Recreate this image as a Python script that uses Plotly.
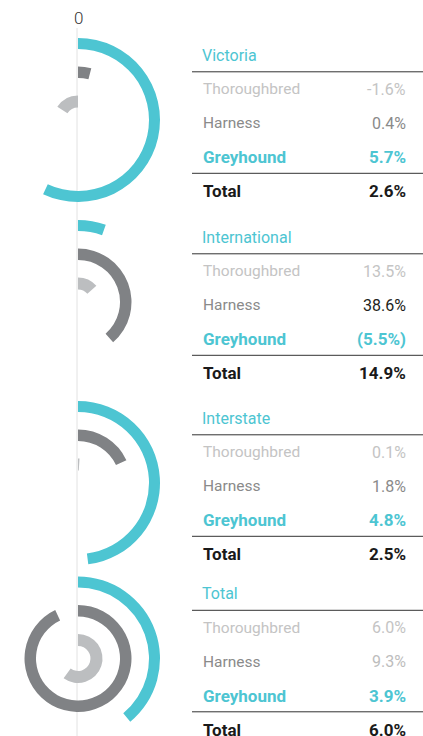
import math
import plotly.graph_objects as go

# ---------------- data ----------------
regions = ["Victoria", "International", "Interstate", "Total"]
series_names = ["Thoroughbred", "Harness", "Greyhound"]
thoroughbred = [-1.6, 13.5, 0.1, 6.0]
harness = [0.4, 38.6, 1.8, 9.3]
greyhound = [5.7, -5.5, 4.8, 3.9]
total = [2.6, 14.9, 2.5, 6.0]
full_turn_pct = [10, 100, 10, 10]   # percent that one full turn (360 deg) represents in each ring chart
zero_label = "0"

# ---------------- style / layout constants ----------------
W, H = 423, 736
FONT = "Roboto"
TEAL = "#4dc5d2"
DARK = "#808285"
LIGHT = "#bcbec0"
TXT_LIGHT = "#c4c4c4"
TXT_MID = "#8a8a8a"
TXT_BLACK = "#1a1a1a"
harness_value_colors = [TXT_MID, "#231f20", TXT_MID, "#bdbdbd"]

CX = 78
CYS = [120, 302, 483, 658.5]
RING_TEAL = (71, 82)
RING_DARK = (42, 53.5)
RING_LIGHT = (12.5, 24.5)
RA = 84   # radial extent (px) of outer polar
RB = 58   # radial extent (px) of inner polar

LABEL_X = 200.5
VALUE_X = 407.5
LINE_X0 = 192
REG_SIZE = 15.5
BOLD_SIZE = 17


def fx(px):
    return px / W


def fy(py):
    return 1 - py / H


def sector_bbox(s0, s1):
    arc = s1 - s0
    a0 = s0 % 360
    a1 = a0 + arc
    ax0, ay0 = math.cos(math.radians(a0)), math.sin(math.radians(a0))
    ax1, ay1 = math.cos(math.radians(a1)), math.sin(math.radians(a1))
    if (a0 <= 90 and a1 >= 90) or (a0 > 90 and a1 >= 450):
        y1 = 1
    elif ay0 <= 0 and ay1 <= 0:
        y1 = 0
    else:
        y1 = max(ay0, ay1)
    if (a0 <= 180 and a1 >= 180) or (a0 > 180 and a1 >= 540):
        x0 = -1
    elif ax0 >= 0 and ax1 >= 0:
        x0 = 0
    else:
        x0 = min(ax0, ax1)
    if (a0 <= 270 and a1 >= 270) or (a0 > 270 and a1 >= 630):
        y0 = -1
    elif ay0 >= 0 and ay1 >= 0:
        y0 = 0
    else:
        y0 = min(ay0, ay1)
    if a1 >= 360:
        x1 = 1
    elif ax0 <= 0 and ax1 <= 0:
        x1 = 0
    else:
        x1 = max(ax0, ax1)
    return x0, y0, x1, y1


def fmt(v, paren=False):
    if paren and v < 0:
        return f"({abs(v):.1f}%)"
    return f"{v:.1f}%"


hidden_axes = dict(
    bgcolor="rgba(0,0,0,0)",
    angularaxis=dict(visible=False, showgrid=False, showline=False, direction="clockwise", rotation=90),
)

fig = go.Figure()
polars = {}
annotations = []
shapes = []

k = 0
for i, region in enumerate(regions):
    cy = CYS[i]
    deg = 360.0 / full_turn_pct[i]

    # ----- outer polar: greyhound ring (drawn clockwise as in the original) -----
    k += 1
    name = "polar" if k == 1 else f"polar{k}"
    ang_g = abs(greyhound[i]) * deg
    fig.add_trace(go.Barpolar(
        r=[RING_TEAL[1] - RING_TEAL[0]], base=[RING_TEAL[0]],
        theta=[ang_g / 2], width=[ang_g],
        marker=dict(color=TEAL, line=dict(width=0)),
        subplot=name, hoverinfo="skip", showlegend=False, name=series_names[2]))
    s0, s1 = 90 - ang_g - 10, 95
    x0, y0, x1, y1 = sector_bbox(s0, s1)
    left = CX + RA * x0
    top = cy - RA * y1
    wd = RA * (x1 - x0)
    ht = RA * (y1 - y0)
    polars[name] = dict(
        hidden_axes,
        domain=dict(x=[fx(left), fx(left + wd)], y=[fy(top + ht), fy(top)]),
        sector=[s0, s1],
        radialaxis=dict(visible=False, showgrid=False, range=[0, RA]),
    )

    # ----- inner polar: harness + thoroughbred rings -----
    k += 1
    name = f"polar{k}"
    for vals, ring, col, sname in [(harness, RING_DARK, DARK, series_names[1]),
                                   (thoroughbred, RING_LIGHT, LIGHT, series_names[0])]:
        a = vals[i] * deg
        fig.add_trace(go.Barpolar(
            r=[ring[1] - ring[0]], base=[ring[0]],
            theta=[a / 2], width=[abs(a)],
            marker=dict(color=col, line=dict(width=0)),
            subplot=name, hoverinfo="skip", showlegend=False, name=sname))
    polars[name] = dict(
        hidden_axes,
        domain=dict(x=[fx(CX - RB), fx(CX + RB)], y=[fy(cy + RB), fy(cy - RB)]),
        radialaxis=dict(visible=False, showgrid=False, range=[0, RB]),
    )

    # ----- table -----
    hy = cy - 64.7
    annotations.append(dict(x=fx(LABEL_X - 1), y=fy(hy), text=region, xanchor="left", yanchor="middle",
                            font=dict(family=FONT, size=16, color=TEAL)))
    rows = [
        (series_names[0], fmt(thoroughbred[i]), TXT_LIGHT, TXT_LIGHT, False),
        (series_names[1], fmt(harness[i]), TXT_MID, harness_value_colors[i], False),
        (series_names[2], fmt(greyhound[i], paren=True), TEAL, TEAL, True),
    ]
    for j, (lab, val, lc, vc, bold) in enumerate(rows):
        ry = hy + 34 * (j + 1)
        lt = f"<b>{lab}</b>" if bold else lab
        vt = f"<b>{val}</b>" if bold else val
        sz = BOLD_SIZE if bold else REG_SIZE
        annotations.append(dict(x=fx(LABEL_X), y=fy(ry), text=lt, xanchor="left", yanchor="middle",
                                font=dict(family=FONT, size=sz, color=lc)))
        annotations.append(dict(x=fx(VALUE_X), y=fy(ry), text=vt, xanchor="right", yanchor="middle",
                                font=dict(family=FONT, size=sz if bold else 16, color=vc)))
    ty = hy + 136
    annotations.append(dict(x=fx(LABEL_X), y=fy(ty), text="<b>Total</b>", xanchor="left", yanchor="middle",
                            font=dict(family=FONT, size=BOLD_SIZE, color=TXT_BLACK)))
    annotations.append(dict(x=fx(VALUE_X), y=fy(ty), text=f"<b>{fmt(total[i])}</b>", xanchor="right",
                            yanchor="middle", font=dict(family=FONT, size=BOLD_SIZE, color=TXT_BLACK)))
    for ly in (hy + 16.5, hy + 118):
        shapes.append(dict(type="line", xref="paper", yref="paper", x0=fx(LINE_X0), x1=1,
                           y0=fy(ly), y1=fy(ly), line=dict(color="#333333", width=1)))

# zero axis line and label
shapes.append(dict(type="line", xref="paper", yref="paper", x0=fx(77), x1=fx(77), y0=fy(28), y1=0,
                   line=dict(color="#e2e2e2", width=1), layer="below"))
annotations.append(dict(x=fx(78), y=fy(18), text=zero_label, xanchor="center", yanchor="middle",
                        font=dict(family=FONT, size=17, color="#333333", weight=300)))

fig.update_layout(
    width=W, height=H,
    margin=dict(l=0, r=0, t=0, b=0),
    paper_bgcolor="white",
    showlegend=False,
    annotations=[dict(a, showarrow=False, xref="paper", yref="paper") for a in annotations],
    shapes=shapes,
    **polars,
)

fig.write_html("out.html", config={"displayModeBar": False, "staticPlot": True},
               post_script="document.body.style.margin='0px';document.body.style.overflow='hidden';")
